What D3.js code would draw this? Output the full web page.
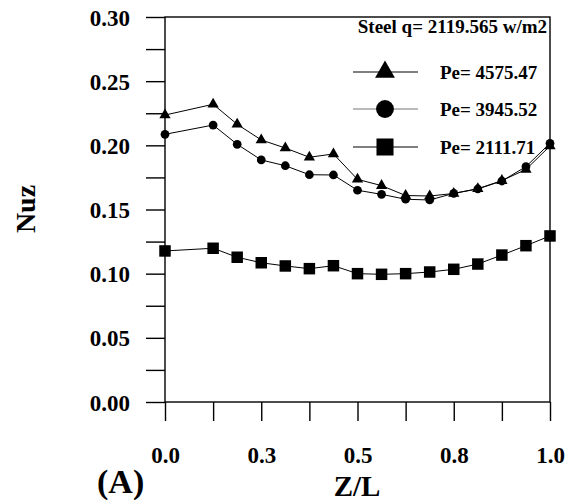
<!DOCTYPE html>
<html>
<head>
<meta charset="utf-8">
<script src="https://cdn.jsdelivr.net/npm/d3@7"></script>
<style>
  html, body { margin: 0; padding: 0; background: #fff; }
  svg text { font-family: "Liberation Serif", "Times New Roman", serif; font-weight: bold; fill: #000; }
</style>
</head>
<body>
<svg id="chart"></svg>
<script>
// ---------- data ----------
const zl = [0, 0.125, 0.1875, 0.25, 0.3125, 0.375, 0.4375, 0.5, 0.5625, 0.625, 0.6875, 0.75, 0.8125, 0.875, 0.9375, 1.0];

const nuzPe4575 = [0.2236, 0.2320, 0.2164, 0.2042, 0.1979, 0.1907, 0.1933, 0.1735, 0.1686, 0.1609, 0.1605, 0.1625, 0.1662, 0.1725, 0.1812, 0.1995];
const nuzPe3945 = [0.2086, 0.2158, 0.2008, 0.1886, 0.1841, 0.1771, 0.1769, 0.1650, 0.1618, 0.1580, 0.1574, 0.1626, 0.1660, 0.1722, 0.1834, 0.2016];
const nuzPe2111 = [0.1177, 0.1198, 0.1128, 0.1085, 0.1060, 0.1039, 0.1062, 0.1000, 0.0995, 0.1000, 0.1013, 0.1034, 0.1075, 0.1145, 0.1218, 0.1294];

const seriesNames = ["Pe= 4575.47", "Pe= 3945.52", "Pe= 2111.71"];
const seriesSymbols = ["triangle", "circle", "square"];
const legendTitle = "Steel q= 2119.565 w/m2";

const xTicks = [0, 0.125, 0.25, 0.375, 0.5, 0.625, 0.75, 0.875, 1.0];
const xTickLabels = new Map([[0, "0.0"], [0.25, "0.3"], [0.5, "0.5"], [0.75, "0.8"], [1.0, "1.0"]]);
const yTicks = [0, 0.025, 0.05, 0.075, 0.1, 0.125, 0.15, 0.175, 0.2, 0.225, 0.25, 0.275, 0.3];
const yTickLabels = new Map([[0, "0.00"], [0.05, "0.05"], [0.1, "0.10"], [0.15, "0.15"], [0.2, "0.20"], [0.25, "0.25"], [0.3, "0.30"]]);

// ---------- layout ----------
const width = 577, height = 504;
const plot = { left: 165, right: 550, top: 17, bottom: 402 };

const svg = d3.select("#chart").attr("width", width).attr("height", height);

const x = d3.scaleLinear().domain([0, 1]).range([plot.left, plot.right]);
const y = d3.scaleLinear().domain([0, 0.3]).range([plot.bottom, plot.top]);

// cadre
svg.append("rect")
  .attr("x", plot.left).attr("y", plot.top)
  .attr("width", plot.right - plot.left).attr("height", plot.bottom - plot.top)
  .attr("fill", "none").attr("stroke", "#000").attr("stroke-width", 1.4);

// axe y
const yAxis = svg.append("g")
  .attr("transform", `translate(${plot.left},0)`)
  .call(d3.axisLeft(y).tickValues(yTicks).tickSize(19).tickPadding(16)
    .tickFormat(d => yTickLabels.get(+d.toFixed(3)) || ""));
yAxis.select(".domain").remove();
yAxis.selectAll("line").attr("stroke-width", 1.4);
yAxis.selectAll("text").attr("font-size", 23).attr("dy", "0.35em");
yAxis.attr("font-family", null);

// axe x
const xAxis = svg.append("g")
  .attr("transform", `translate(0,${plot.bottom})`)
  .call(d3.axisBottom(x).tickValues(xTicks).tickSize(19).tickPadding(42)
    .tickFormat(d => xTickLabels.get(d) || ""));
xAxis.select(".domain").remove();
xAxis.selectAll("line").attr("stroke-width", 1.4);
xAxis.selectAll("text").attr("font-size", 23).attr("dy", "0");
xAxis.attr("font-family", null);

// séries
const series = [nuzPe4575, nuzPe3945, nuzPe2111];
const symType = { triangle: d3.symbolTriangle, circle: d3.symbolCircle, square: d3.symbolSquare };
const plotSize = { triangle: 55, circle: 60, square: 132 };
const legendSize = { triangle: 170, circle: 250, square: 290 };

const line = d3.line().x((d, i) => x(zl[i])).y(d => y(d));

series.forEach((vals, k) => {
  const g = svg.append("g");
  g.append("path").datum(vals)
    .attr("d", line).attr("fill", "none").attr("stroke", "#000").attr("stroke-width", 1);
  g.selectAll("path.pt").data(vals).join("path")
    .attr("class", "pt")
    .attr("transform", (d, i) => `translate(${x(zl[i])},${y(d)})`)
    .attr("d", d3.symbol(symType[seriesSymbols[k]], plotSize[seriesSymbols[k]]))
    .attr("fill", "#000");
});

// légende
svg.append("text")
  .attr("x", 547).attr("y", 33).attr("text-anchor", "end")
  .attr("font-size", 19).text(legendTitle);

const legendRows = [72, 109, 147];
seriesNames.forEach((name, k) => {
  const ly = legendRows[k];
  svg.append("rect").attr("x", 350).attr("y", ly - 12).attr("width", 72).attr("height", 24).attr("fill", "#fff");
  svg.append("line").attr("x1", 353).attr("x2", 418).attr("y1", ly).attr("y2", ly)
    .attr("stroke", k === 1 ? "#777" : "#000").attr("stroke-width", 1.2);
  svg.append("path").attr("transform", `translate(385,${ly})`)
    .attr("d", d3.symbol(symType[seriesSymbols[k]], legendSize[seriesSymbols[k]]))
    .attr("fill", "#000");
  svg.append("text").attr("x", 440).attr("y", ly + 7)
    .attr("font-size", 19).text(name);
});

// titres des axes
svg.append("text")
  .attr("transform", "translate(35,209) rotate(-90)")
  .attr("text-anchor", "middle").attr("font-size", 28).text("Nuz");
svg.append("text")
  .attr("x", 357).attr("y", 496).attr("text-anchor", "middle")
  .attr("font-size", 29).text("Z/L");
svg.append("text")
  .attr("x", 97).attr("y", 493).attr("font-size", 34).text("(A)");
</script>
</body>
</html>
